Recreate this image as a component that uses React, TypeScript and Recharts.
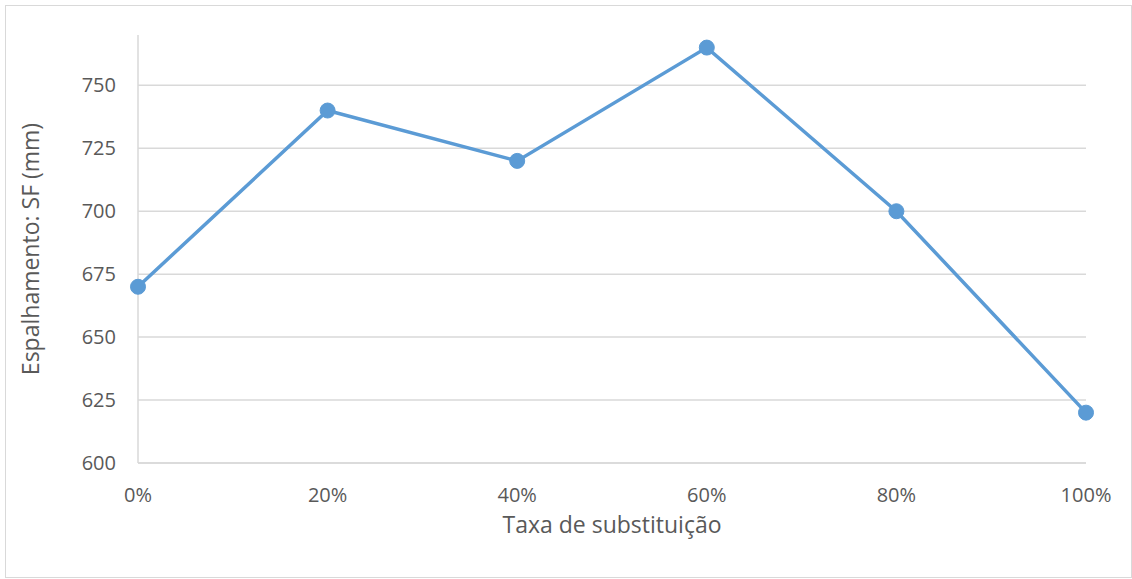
import React from 'react';
import { LineChart, Line, XAxis, YAxis, CartesianGrid, Label } from 'recharts';

// substitution rate categories and measured slump-flow spread (mm)
const taxas = ['0%', '20%', '40%', '60%', '80%', '100%'];
const espalhamento = [670, 740, 720, 765, 700, 620];
const yTicks = [600, 625, 650, 675, 700, 725, 750];

const data = taxas.map((taxa, i) => ({ taxa, sf: espalhamento[i] }));

const FONT = '"Open Sans", "Noto Sans", sans-serif';
const TEXT = '#595959';
const GRID = '#d9d9d9';
const BLUE = '#5b9bd5';

export default function App() {
  return (
    <div style={{ position: 'absolute', left: 0, top: 0, width: 1132, height: 579, background: '#fff' }}>
      <div
        style={{
          position: 'absolute',
          left: 5,
          top: 5,
          width: 1125,
          height: 571,
          border: '1px solid #d9d9d9',
        }}
      />
      <LineChart
        width={1132}
        height={579}
        data={data}
        margin={{ top: 35, right: 46, bottom: 0, left: 0 }}
        style={{ fontFamily: FONT }}
      >
        {/* grid only at the labelled ticks, nothing at the 770 top */}
        <CartesianGrid
          horizontal
          vertical={false}
          horizontalValues={yTicks}
          stroke={GRID}
          strokeWidth={1.5}
        />
        <XAxis
          dataKey="taxa"
          height={116}
          axisLine={{ stroke: GRID, strokeWidth: 1.5 }}
          tickLine={false}
          tickSize={0}
          tickMargin={25}
          tick={{ fill: TEXT, fontSize: 20 }}
          interval={0}
        >
          <Label
            value="Taxa de substituição"
            position="insideTop"
            offset={54}
            style={{ fill: TEXT, fontSize: 23 }}
          />
        </XAxis>
        <YAxis
          width={138}
          domain={[600, 770]}
          ticks={yTicks}
          allowDataOverflow
          axisLine={{ stroke: GRID, strokeWidth: 1.5 }}
          tickLine={false}
          tickSize={0}
          tickMargin={22}
          tick={{ fill: TEXT, fontSize: 20 }}
        >
          <Label
            value="Espalhamento: SF (mm)"
            angle={-90}
            position="insideLeft"
            offset={31}
            style={{ fill: TEXT, fontSize: 23, textAnchor: 'middle' }}
          />
        </YAxis>
        <Line
          type="linear"
          dataKey="sf"
          stroke={BLUE}
          strokeWidth={3.5}
          dot={{ r: 7.5, fill: BLUE, stroke: BLUE, strokeWidth: 1 }}
          isAnimationActive={false}
        />
      </LineChart>
    </div>
  );
}
